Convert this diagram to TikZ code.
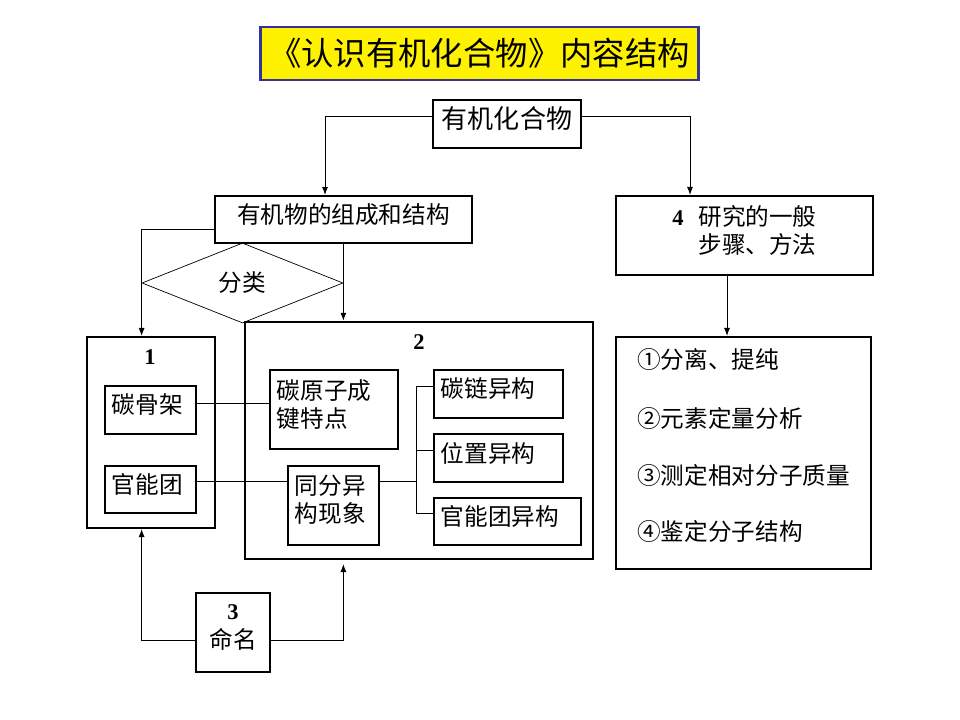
\documentclass[tikz,border=0pt]{standalone}
\usepackage{fontspec}
\setmainfont{Noto Sans CJK SC}
\newfontfamily\numfont{Liberation Serif}
\usepackage{tikz}
\usetikzlibrary{positioning}
\usetikzlibrary{shapes.geometric}
\usetikzlibrary{arrows.meta}
\definecolor{titleblue}{RGB}{51,51,153}
\tikzset{>={Latex[length=2mm,width=1.5mm]}}
\tikzset{
  frame/.style={draw, line width=1.4pt, inner sep=0pt, text depth=0.3cm},
  box/.style={draw, line width=1.4pt, inner xsep=0.17cm, inner ysep=0pt, text depth=0.3cm, align=left},
  link/.style={line width=0.7pt}
}
\newcommand{\secnum}[1]{{\numfont\bfseries\fontsize{16pt}{18pt}\selectfont #1}}

\begin{document}
\begin{tikzpicture}[x=0.025cm, y=-0.025cm, font=\fontsize{16.8pt}{20pt}\selectfont]
\useasboundingbox (0,0) rectangle (960,720);

% Title
\node[draw=titleblue, fill=yellow, line width=2.1pt, inner sep=0pt,
  minimum width=10.925cm, minimum height=1.325cm,
  font=\fontsize{23pt}{27pt}\selectfont] (title) at (479.5,53.5) {《认识有机化合物》内容结构};

% Top level
\node[frame, minimum width=3.7cm, minimum height=1.2cm,
  font=\fontsize{18.5pt}{22pt}\selectfont] (org) at (507,124) {有机化合物};

% Second level
\node[frame, minimum width=6.425cm, minimum height=1.175cm] (comp) at (343.5,219.5) {有机物的组成和结构};
\node[frame, minimum width=6.425cm, minimum height=1.975cm, align=left] (plan) at (744.5,235.5)
  {\makebox[0.65cm][l]{\secnum{4}}研究的一般\\\hspace*{0.65cm}步骤、方法};

% Classification
\node[diamond, draw, line width=0.5pt, inner sep=0pt,
  minimum width=5.025cm, minimum height=2cm] (sort) at (242.5,283) {分类};

% Part 1
\node[frame, minimum width=3.2cm, minimum height=4.775cm] (part1) at (151,432.5) {};
\node (n1) at (150,357) {\secnum{1}};
\node[box, text width=1.935cm, minimum height=1.2cm] (skel) at (150.5,410) {碳骨架};
\node[box, text width=1.935cm, minimum height=1.175cm] (group) at (150.5,489.5) {官能团};

% Part 2
\node[frame, minimum width=8.7cm, minimum height=5.925cm] (part2) at (419,440.5) {};
\node (n2) at (419,342) {\secnum{2}};
\node[box, text width=2.86cm, text depth=1.02cm, minimum height=1.975cm] (bond) at (334,409.5) {碳原子成\\键特点};
\node[box, text width=1.935cm, text depth=1.02cm, minimum height=1.975cm] (iso) at (333.5,505.5) {同分异\\构现象};
\node[box, text width=2.885cm, minimum height=1.2cm] (chain) at (498.5,394) {碳链异构};
\node[box, text width=2.885cm, minimum height=1.2cm] (pos) at (498.5,458) {位置异构};
\node[box, text width=3.335cm, minimum height=1.175cm] (fgiso) at (507.5,521.5) {官能团异构};

% Part 3
\node[frame, minimum width=1.85cm, minimum height=1.975cm, align=center] (naming) at (233,632.5)
  {\secnum{3}\\命名};

% Part 4
\node[frame, minimum width=6.375cm, minimum height=5.8cm] (steps) at (743.5,453) {};
\node[anchor=west, inner sep=0pt] (m1) at (637,360) {①分离、提纯};
\node[anchor=west, inner sep=0pt] (m2) at (637,419) {②元素定量分析};
\node[anchor=west, inner sep=0pt] (m3) at (637,476) {③测定相对分子质量};
\node[anchor=west, inner sep=0pt] (m4) at (637,532) {④鉴定分子结构};

% Connectors
\draw[link, ->] ([yshift=0.2cm]org.west) -| (comp.north -| 325,0);
\draw[link, ->] ([yshift=0.2cm]org.east) -| (plan.north -| 690,0);
\draw[link, ->] ([yshift=-0.24cm]comp.west) -| (part1.north -| sort.west);
\draw[line width=1pt, ->] (comp.south -| sort.east) -- (part2.north -| sort.east);

\draw[link] ([yshift=0.175cm]skel.east) -- ([yshift=0.175cm]skel.east -| bond.west);
\coordinate (fl) at ([yshift=0.19cm]group.east);
\coordinate (fork) at (416,0);
\draw[link] (fl) -- (fl -| iso.west);
\draw[link] (fl -| iso.east) -- (fl -| fork);
\draw[link] ([yshift=0.19cm]chain.west) -- ([yshift=0.19cm]chain.west -| fork)
  -- ([yshift=0.2cm]fgiso.west -| fork) -- ([yshift=0.2cm]fgiso.west);
\draw[link] ([yshift=0.2cm]pos.west) -- ([yshift=0.2cm]pos.west -| fork);

\draw[link, ->] ([yshift=-0.21cm]naming.west) -| (part1.south -| sort.west);
\draw[link, ->, shorten >=0.1cm] ([yshift=-0.21cm]naming.east) -| (part2.south -| sort.east);

\draw[link, ->] (plan.south -| 727,0) -- (steps.north -| 727,0);

\end{tikzpicture}
\end{document}
